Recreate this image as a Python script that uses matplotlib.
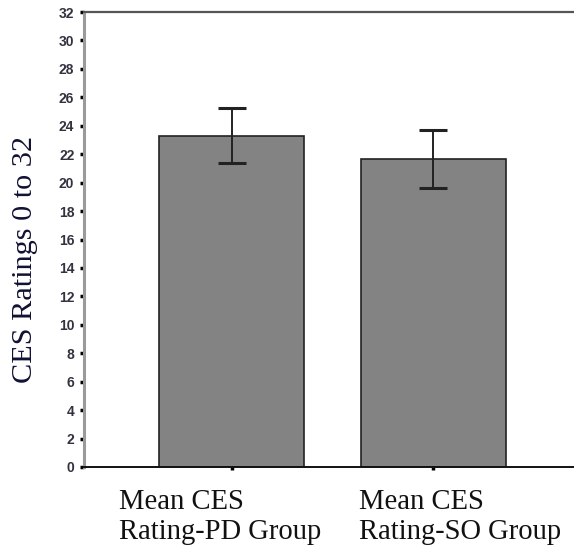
import matplotlib
matplotlib.use("Agg")
import matplotlib.pyplot as plt
import matplotlib.transforms as mtransforms
import numpy as np

categories = ["Mean CES\nRating-PD Group", "Mean CES\nRating-SO Group"]
means = [23.3, 21.65]
errors = [1.95, 2.05]
yticks = list(range(0, 33, 2))

fig = plt.figure(figsize=(5.74, 5.5), dpi=100)
ax = fig.add_axes([84/574, 1-467/550, 1-84/574, 455/550])

x = np.arange(len(categories))
ax.bar(x, means, width=0.718, color="#838383", edgecolor="#222222", linewidth=1.2, zorder=2)
ax.errorbar(x, means, yerr=errors, fmt="none", ecolor="#222222", elinewidth=1.4,
            capsize=10, capthick=2.2, zorder=3)

ax.set_ylim(0, 32)
ax.set_xlim(-0.731, 1.696)
ax.set_yticks(yticks)
ax.set_yticklabels([str(t) for t in yticks], fontsize=10, color="#333340",
                   family="Liberation Sans", fontweight="bold")
ax.tick_params(axis="y", direction="out", length=3, width=2.5, color="black", pad=4)
ax.set_xticks(x)
ax.set_xticklabels([])
ax.tick_params(axis="x", direction="out", length=2.5, width=2.5, color="black")

ax.spines["right"].set_visible(False)
ax.spines["left"].set_color("#9a9a9a")
ax.spines["left"].set_linewidth(2.2)
ax.spines["top"].set_color("#555555")
ax.spines["top"].set_linewidth(1.6)
ax.spines["bottom"].set_color("#111111")
ax.spines["bottom"].set_linewidth(1.4)

ax.set_ylabel("CES Ratings 0 to 32", family="Liberation Serif", fontsize=21.8,
              color="#111133")
ax.yaxis.set_label_coords(-0.094, 0.457)

offsets_px = [-113, -74]
for xi, lab, off in zip(x, categories, offsets_px):
    tr = mtransforms.blended_transform_factory(ax.transData, ax.transAxes) + \
        mtransforms.ScaledTranslation(off/100, -22/100, fig.dpi_scale_trans)
    ax.text(xi, 0, lab, transform=tr, ha="left", va="top", family="Liberation Serif",
            fontsize=20.6, color="#111111", linespacing=1.2)

fig.savefig("out.png", dpi=100)
